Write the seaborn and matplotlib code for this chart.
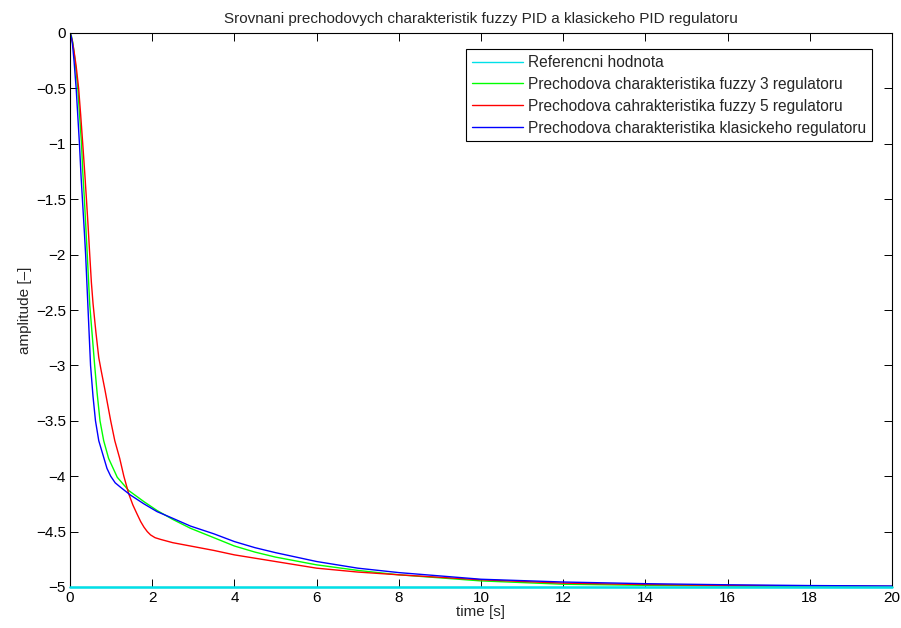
import matplotlib
matplotlib.use("Agg")
import matplotlib.pyplot as plt
import seaborn as sns
import pandas as pd

# --- data -------------------------------------------------------------
t_ref = [0.0, 20.0]
y_ref = [-5.0, -5.0]

t_fuzzy3 = [0.0, 0.03, 0.07, 0.12, 0.19, 0.24, 0.28, 0.31, 0.35, 0.42, 0.48,
            0.53, 0.60, 0.66, 0.73, 0.82, 0.94, 1.15, 1.43, 1.80, 2.12, 2.50,
            2.93, 3.5, 4.0, 4.5, 5.0, 6.0, 7.0, 8.0, 10.0, 12.0, 14.0, 16.0,
            18.0, 20.0]
y_fuzzy3 = [0.0, -0.02, -0.09, -0.24, -0.50, -0.78, -1.00, -1.25, -1.50, -2.00,
            -2.45, -2.68, -3.00, -3.25, -3.50, -3.68, -3.84, -4.01, -4.13, -4.23,
            -4.31, -4.39, -4.47, -4.555, -4.63, -4.685, -4.73, -4.80, -4.85,
            -4.89, -4.945, -4.975, -4.985, -4.991, -4.995, -4.997]

t_fuzzy5 = [0.0, 0.05, 0.10, 0.15, 0.21, 0.26, 0.31, 0.36, 0.40, 0.44, 0.48,
            0.52, 0.56, 0.63, 0.70, 0.76, 0.85, 0.99, 1.09, 1.21, 1.31, 1.43,
            1.53, 1.63, 1.72, 1.80, 1.88, 1.96, 2.07, 2.20, 2.50, 2.93, 3.5,
            4.0, 5.0, 6.0, 7.0, 8.0, 10.0, 12.0, 14.0, 16.0, 18.0, 20.0]
y_fuzzy5 = [0.0, -0.06, -0.17, -0.30, -0.50, -0.74, -1.00, -1.27, -1.50, -1.74,
            -2.00, -2.25, -2.44, -2.70, -2.93, -3.05, -3.22, -3.50, -3.68, -3.84,
            -4.00, -4.16, -4.26, -4.34, -4.41, -4.46, -4.50, -4.53, -4.555,
            -4.57, -4.60, -4.63, -4.67, -4.71, -4.77, -4.83, -4.865, -4.89,
            -4.935, -4.965, -4.978, -4.986, -4.99, -4.994]

t_classic = [0.0, 0.03, 0.06, 0.10, 0.15, 0.19, 0.23, 0.27, 0.31, 0.35, 0.38,
             0.44, 0.50, 0.56, 0.62, 0.70, 0.82, 0.90, 0.99, 1.10, 1.23, 1.47,
             1.80, 2.12, 2.50, 2.93, 3.5, 4.0, 4.5, 5.0, 6.0, 7.0, 8.0, 10.0,
             12.0, 14.0, 16.0, 18.0, 20.0]
y_classic = [0.0, -0.03, -0.10, -0.26, -0.50, -0.75, -1.00, -1.30, -1.55, -1.80,
             -2.00, -2.50, -3.00, -3.28, -3.50, -3.68, -3.83, -3.93, -4.00, -4.06,
             -4.10, -4.17, -4.25, -4.32, -4.38, -4.45, -4.52, -4.59, -4.645,
             -4.69, -4.77, -4.83, -4.87, -4.93, -4.955, -4.970, -4.980, -4.987,
             -4.991]

labels = ["Referencni hodnota",
          "Prechodova charakteristika fuzzy 3 regulatoru",
          "Prechodova cahrakteristika fuzzy 5 regulatoru",
          "Prechodova charakteristika klasickeho regulatoru"]
colors = ["#00E0E8", "#00FF00", "#FF0000", "#0000FF"]

x_ticks = list(range(0, 21, 2))
y_ticks = [0, -0.5, -1, -1.5, -2, -2.5, -3, -3.5, -4, -4.5, -5]
y_ticklabels = ["0", "\u22120.5", "\u22121", "\u22121.5", "\u22122", "\u22122.5",
                "\u22123", "\u22123.5", "\u22124", "\u22124.5", "\u22125"]

# --- long-form table -----------------------------------------------------
frames = []
for lab, t, y in zip(labels,
                     [t_ref, t_fuzzy3, t_fuzzy5, t_classic],
                     [y_ref, y_fuzzy3, y_fuzzy5, y_classic]):
    frames.append(pd.DataFrame({"time": t, "amplitude": y, "series": lab}))
df = pd.concat(frames, ignore_index=True)

# --- styling -------------------------------------------------------------
FS = 11
sns.set_style("ticks")
plt.rcParams["font.family"] = ["Liberation Sans", "DejaVu Sans"]
plt.rcParams["font.size"] = FS
plt.rcParams["axes.linewidth"] = 0.8

fig = plt.figure(figsize=(9.01, 6.28), dpi=100)
ax = fig.add_axes([70 / 901, 1 - 587 / 628, 822 / 901, 554 / 628])

sns.lineplot(data=df, x="time", y="amplitude", hue="series",
             hue_order=labels, palette=dict(zip(labels, colors)),
             sort=False, estimator=None, linewidth=1.0, ax=ax)

# reference line sits on the lower border: draw it above the frame
ax.lines[0].set_linewidth(1.8)
ax.lines[0].set_zorder(5)
ax.lines[0].set_clip_on(False)

ax.set_xlim(0, 20)
ax.set_ylim(-5, 0)
ax.set_xticks(x_ticks)
ax.set_xticklabels([str(v) for v in x_ticks])
ax.set_yticks(y_ticks)
ax.set_yticklabels(y_ticklabels)
ax.tick_params(direction="in", length=6, width=0.7, top=True, right=True,
               labelsize=FS, colors="black", pad=3)
for sp in ax.spines.values():
    sp.set_visible(True)
    sp.set_color("black")

ax.set_xlabel("time [s]", fontsize=FS, labelpad=0)
ax.set_ylabel("amplitude [\u2013]", fontsize=FS, labelpad=3)
ax.set_title("Srovnani prechodovych charakteristik fuzzy PID a klasickeho PID regulatoru",
             fontsize=FS, pad=7)

leg = ax.legend(loc="upper right", bbox_to_anchor=(0.9757, 0.971), frameon=True,
                fancybox=False, edgecolor="black", framealpha=1,
                fontsize=11.2, handlelength=3.3, handletextpad=0.3,
                labelspacing=0.44, borderpad=0.38, borderaxespad=0)
leg.get_frame().set_linewidth(0.8)
for h in leg.get_lines():
    h.set_linewidth(1.0)

fig.savefig("out.png", dpi=100)
